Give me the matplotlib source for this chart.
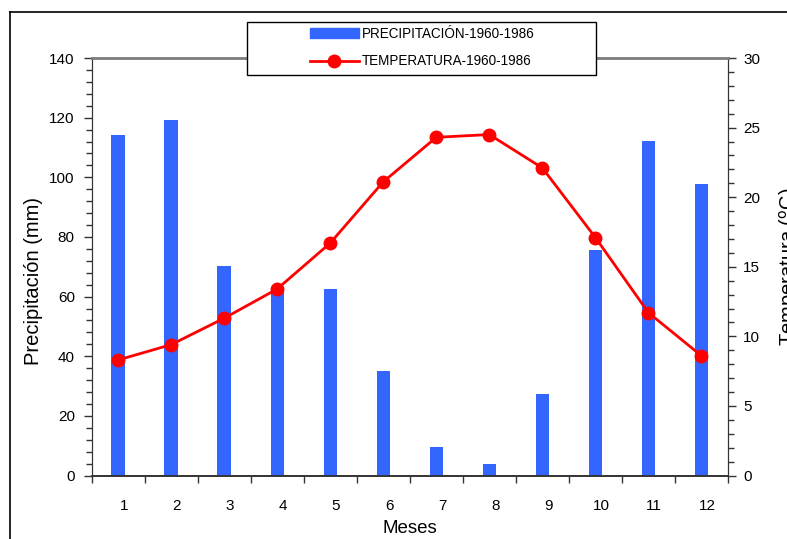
import matplotlib
matplotlib.use('Agg')
import matplotlib.pyplot as plt
from matplotlib.lines import Line2D
from matplotlib.patches import Rectangle
from matplotlib.ticker import MultipleLocator, FixedLocator, NullFormatter

plt.rcParams['font.family'] = ['Liberation Sans', 'DejaVu Sans']

# ── data ──
meses = [1, 2, 3, 4, 5, 6, 7, 8, 9, 10, 11, 12]
precipitacion = [114.2, 119.2, 70.3, 62.6, 62.5, 35.0, 9.6, 3.9, 27.3, 75.6, 112.2, 97.8]
temperatura = [8.3, 9.4, 11.3, 13.4, 16.7, 21.1, 24.3, 24.5, 22.1, 17.1, 11.7, 8.6]
label_prec = 'PRECIPITACIÓN-1960-1986'
label_temp = 'TEMPERATURA-1960-1986'

W, H = 787, 539
fig = plt.figure(figsize=(W / 100, H / 100), dpi=100)

# figure frame (only top/left visible in the crop)
fig.add_artist(Line2D([10 / W, 1], [1 - 12 / H, 1 - 12 / H], color='black', lw=1.2))
fig.add_artist(Line2D([10 / W, 10 / W], [0, 1 - 12 / H], color='black', lw=1.2))

ax = fig.add_axes([91.5 / W, 1 - 475.5 / H, (728 - 91.5) / W, (475.5 - 58) / H])
ax2 = ax.twinx()

x = list(range(len(meses)))
ax.bar(x, precipitacion, width=0.25, color='#3366FF', zorder=2)
ax2.plot(x, temperatura, color='#FF0000', lw=2, marker='o', ms=9, zorder=3)

ax.set_xlim(-0.5, len(meses) - 0.5)
ax.set_ylim(0, 140)
ax2.set_ylim(0, 30)

# x ticks at category boundaries, labels slightly right of centre
ax.xaxis.set_major_locator(FixedLocator([i - 0.5 for i in range(len(meses) + 1)]))
ax.xaxis.set_major_formatter(NullFormatter())
ax.xaxis.set_minor_locator(FixedLocator([i + 0.11 for i in x]))
ax.set_xticklabels([str(m) for m in meses], minor=True)
ax.tick_params(axis='x', which='major', direction='out', length=5, width=1, color='#333333')
ax.tick_params(axis='x', which='minor', length=0, pad=17, labelsize=11)

ax.yaxis.set_major_locator(MultipleLocator(20))
ax.yaxis.set_minor_locator(MultipleLocator(4))
ax.tick_params(axis='y', which='major', direction='out', length=6, width=1, pad=6, labelsize=11, color='#333333')
ax.tick_params(axis='y', which='minor', direction='out', length=4, width=1, color='#333333')

ax2.yaxis.set_major_locator(MultipleLocator(5))
ax2.yaxis.set_minor_locator(MultipleLocator(1))
ax2.tick_params(axis='y', which='major', direction='out', length=6, width=1, pad=5, labelsize=11, color='#333333')
ax2.tick_params(axis='y', which='minor', direction='out', length=4, width=1, color='#333333')

for a in (ax, ax2):
    a.spines['top'].set_color('#808080')
    a.spines['top'].set_linewidth(1.8)
    a.spines['left'].set_color('#333333')
    a.spines['right'].set_color('#333333')
    a.spines['bottom'].set_color('#333333')
    a.spines['bottom'].set_linewidth(1.2)

ax.set_ylabel('Precipitación (mm)', fontsize=14.5)
ax.yaxis.set_label_coords(-0.076, 0.465)
ax.set_xlabel('Meses', fontsize=13.5)
ax.xaxis.set_label_coords(0.5, -0.107)
ax2.set_ylabel('Temperatura ($^{\\mathrm{o}}$C)', fontsize=14.5)
ax2.yaxis.set_label_coords(1.077, 0.5)

# legend box
fig.add_artist(Rectangle((247 / W, 1 - 75 / H), (596 - 247) / W, (75 - 22) / H,
                         transform=fig.transFigure, facecolor='white',
                         edgecolor='black', lw=1, zorder=5))
handles = [
    Rectangle((0, 0), 1, 1, color='#3366FF'),
    Line2D([], [], color='#FF0000', lw=2, marker='o', ms=9),
]
leg = fig.legend(handles, [label_prec, label_temp], loc='center left',
                 bbox_to_anchor=(303 / W, 1 - 47.5 / H), frameon=False,
                 fontsize=9.75, handlelength=3.6, handletextpad=0.25,
                 labelspacing=1.0, borderpad=0)
leg.set_zorder(6)

fig.savefig('out.png', dpi=100)
